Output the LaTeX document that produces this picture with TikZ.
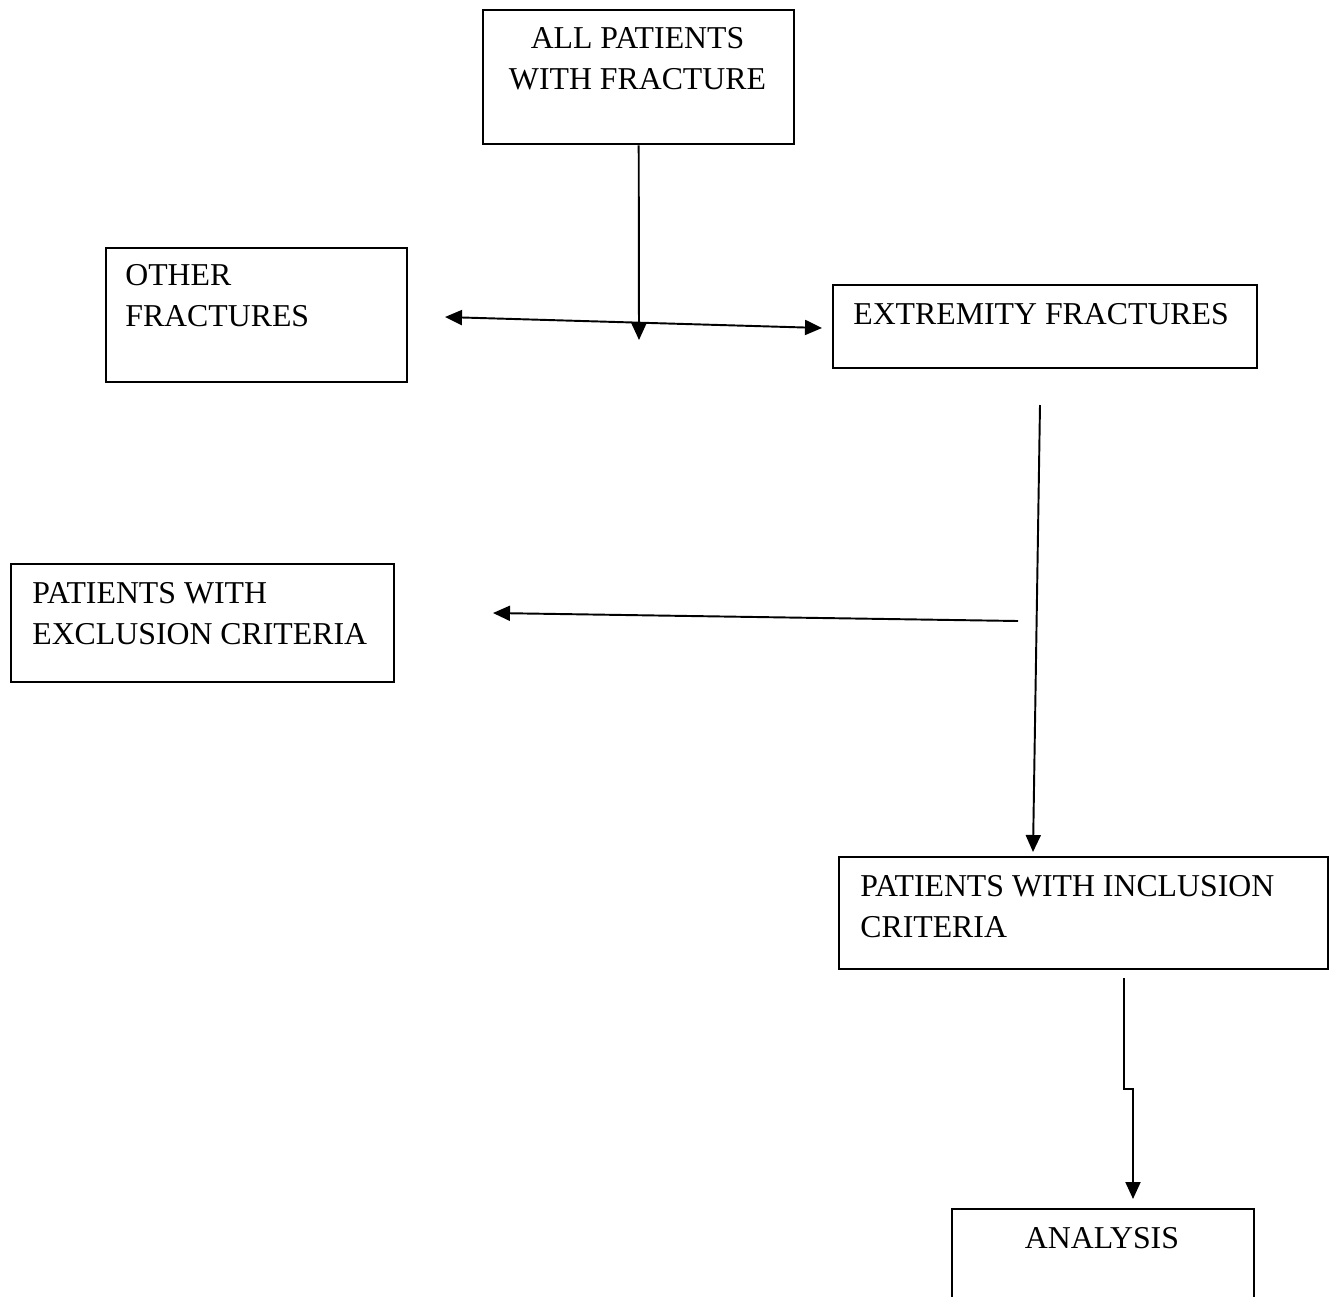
\documentclass[tikz,border=0pt]{standalone}
\usepackage{fontspec}
\setmainfont{Liberation Serif}
\usetikzlibrary{arrows.meta,positioning}

\begin{document}
\begin{tikzpicture}[
  x=0.02cm, y=-0.02cm,
  box/.style={draw,line width=1.4pt,inner sep=0pt,anchor=north west},
  txt/.style={inner sep=0pt,anchor=north west,align=left,
    font=\fontsize{18.1}{23.3}\selectfont},
  arr/.style={line width=1.1pt,-{Triangle[length=0.34cm,width=0.3cm]}},
  dblarr/.style={line width=1.1pt,
    {Triangle[length=0.34cm,width=0.3cm]}-{Triangle[length=0.34cm,width=0.3cm]}}
]
  \clip (0,0) rectangle (1333,1296);
  % Top
  \node[box,minimum width=6.22cm,minimum height=2.68cm] (all) at (482,9) {};
  \node[txt,anchor=north,align=center] (all-txt) at (637.5,27) {ALL PATIENTS\\WITH FRACTURE};
  % Row 2
  \node[box,minimum width=6.02cm,minimum height=2.68cm] (oth) at (105,247) {};
  \node[txt] (oth-txt) at (125,264) {OTHER\\FRACTURES};
  \node[box,minimum width=8.48cm,minimum height=1.66cm] (ext) at (832,284) {};
  \node[txt] (ext-txt) at (853,303) {EXTREMITY FRACTURES};
  % Row 3
  \node[box,minimum width=7.66cm,minimum height=2.36cm] (exc) at (10,563) {};
  \node[txt] (exc-txt) at (32,582) {PATIENTS WITH\\EXCLUSION CRITERIA};
  % Row 4
  \node[box,minimum width=9.78cm,minimum height=2.24cm] (inc) at (838,856) {};
  \node[txt] (inc-txt) at (860,875) {PATIENTS WITH INCLUSION\\CRITERIA};
  % Bottom
  \node[box,minimum width=6.04cm,minimum height=2.6cm] (ana) at (951,1208) {};
  \node[txt,anchor=north,align=center] (ana-txt) at (1102,1227) {ANALYSIS};

  % Arrow ends
  \coordinate (split) at (639,340);
  \coordinate (oth-in) at (445,317);
  \coordinate (ext-in) at (822,328);
  \coordinate (ext-out) at (1040,405);
  \coordinate (inc-in) at (1033,852);
  \coordinate (exc-from) at (1018,621);
  \coordinate (exc-in) at (493,613);
  \coordinate (inc-out) at (1124,978);
  \coordinate (jog) at (1124,1089);
  \coordinate (ana-in) at (1133,1199);

  \draw[arr] (all.south) -- (split);
  \draw[dblarr] (oth-in) -- (ext-in);
  \draw[arr] (ext-out) -- (inc-in);
  \draw[arr] (exc-from) -- (exc-in);
  \draw[arr] (inc-out) -- (jog) -- (jog -| ana-in) -- (ana-in);
\end{tikzpicture}
\end{document}
